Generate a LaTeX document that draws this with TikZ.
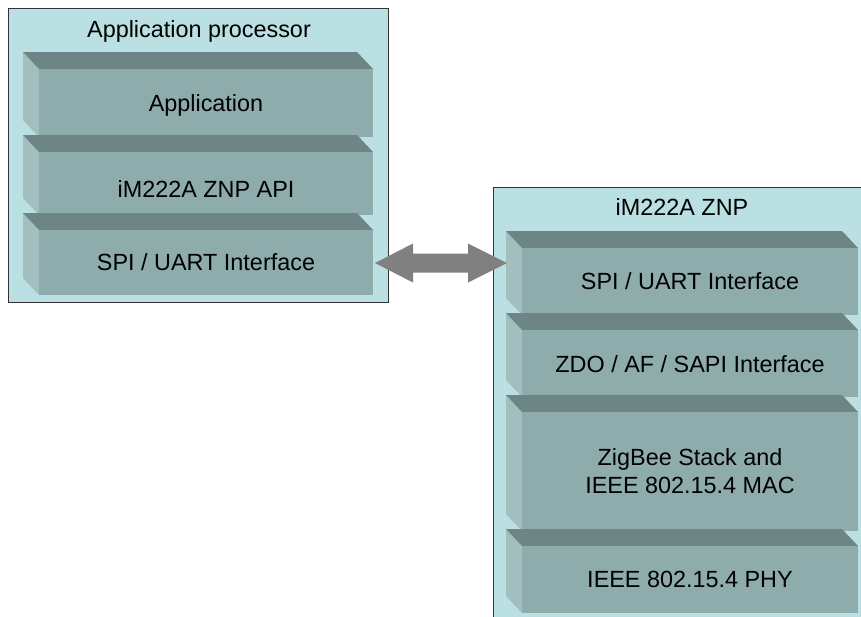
\documentclass[tikz,border=0pt]{standalone}
\usepackage{fontspec}
\setmainfont{Liberation Sans}
\usetikzlibrary{calc}
\definecolor{boxfill}{RGB}{186,224,227}
\definecolor{frontcol}{RGB}{143,172,172}
\definecolor{topcol}{RGB}{110,133,133}
\definecolor{leftcol}{RGB}{162,190,190}
\definecolor{arrowcol}{RGB}{128,128,128}
\newcommand\cubeblock[4]{% x0, ytop, x1, ybottom
  \fill[leftcol] (#1,#2) -- (#1+16,#2+17) -- (#1+16,#4) -- (#1,#4-17) -- cycle;
  \fill[topcol] (#1,#2) -- (#3-16,#2) -- (#3,#2+17) -- (#1+16,#2+17) -- cycle;
  \fill[frontcol] (#1+16,#2+17) rectangle (#3,#4);
}
\begin{document}
\begin{tikzpicture}[x=1pt,y=-1pt,
  outerbox/.style={draw=black!80, line width=1.2pt, fill=boxfill, inner sep=0pt, anchor=north west},
  lbl/.style={font=\fontsize{23.4}{28}\selectfont, inner sep=0pt, anchor=base, align=center, text=black},
  bigarrow/.style={fill=arrowcol}]
\useasboundingbox (0,0) rectangle (861,616);
\clip (0,0) rectangle (861,616);
\fill[white] (0,0) rectangle (861,616);

% Left box
\node[outerbox, minimum width=380pt, minimum height=294pt] (apbox) at (8,8) {};
\node[lbl] (aptitle) at (199,37) {Application processor};
\cubeblock{23}{52}{373}{137}
\cubeblock{23}{135}{373}{215}
\cubeblock{23}{213}{373}{295}
\node[lbl] (app) at (206,111) {Application};
\node[lbl] (api) at (206,197) {iM222A ZNP API};
\node[lbl] (lspi) at (206,270) {SPI / UART Interface};

% Right box (extends past the right and bottom edges)
\node[outerbox, minimum width=440pt, minimum height=480pt] (znpbox) at (493,187) {};
\node[lbl] (znptitle) at (682,215) {iM222A ZNP};
\cubeblock{506}{231}{858}{315}
\cubeblock{506}{313}{858}{397}
\cubeblock{506}{395}{858}{531}
\cubeblock{506}{529}{858}{613}
\node[lbl] (rspi) at (690,289) {SPI / UART Interface};
\node[lbl] (zdo) at (690,372) {ZDO / AF / SAPI Interface};
\node[lbl] (zig) at (690,493) {ZigBee Stack and\\IEEE 802.15.4 MAC};
\node[lbl] (phy) at (690,587) {IEEE 802.15.4 PHY};

% Double arrow
\coordinate (arrL) at (375,263);
\coordinate (arrR) at (507,263);
\fill[bigarrow] (arrL) -- ++(38,-19.5) -- ++(0,10) -- ($(arrR)+(-39,-9.5)$) -- ++(0,-10)
  -- (arrR) -- ++(-39,19.5) -- ++(0,-10) -- ($(arrL)+(38,9.5)$) -- ++(0,10) -- cycle;
\end{tikzpicture}
\end{document}
